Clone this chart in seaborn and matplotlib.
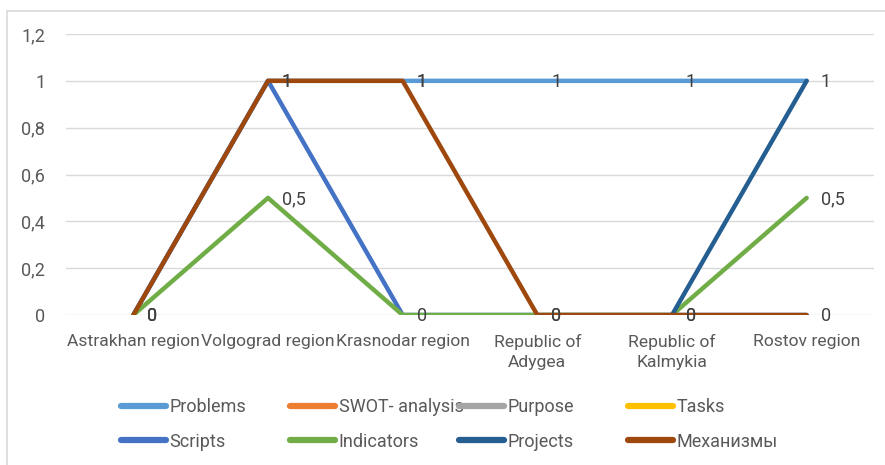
import numpy as np
import pandas as pd
import seaborn as sns
import matplotlib.pyplot as plt
from matplotlib.patches import Rectangle

regions = ["Astrakhan region", "Volgograd region", "Krasnodar region",
           "Republic of\nAdygea", "Republic of\nKalmykia", "Rostov region"]

nan = np.nan
problems = [0, 1, 1, 1, 1, 1]
swot = [nan, nan, nan, nan, nan, nan]
purpose = [nan, nan, nan, nan, nan, nan]
tasks = [nan, nan, nan, nan, nan, nan]
scripts = [0, 1, 0, 0, 0, 0]
indicators = [0, 0.5, 0, 0, 0, 0.5]
projects = [nan, nan, nan, nan, 0, 1]
mechanisms = [0, 1, 1, 0, 0, 0]

series = {
    "Problems": problems,
    "SWOT- analysis": swot,
    "Purpose": purpose,
    "Tasks": tasks,
    "Scripts": scripts,
    "Indicators": indicators,
    "Projects": projects,
    "Механизмы": mechanisms,
}
colors = ["#5B9BD5", "#ED7D31", "#A5A5A5", "#FFC000",
          "#4472C4", "#70AD47", "#255E91", "#9E480E"]
labelled = ["Problems", "Indicators", "Механизмы"]

rows = []
for name, vals in series.items():
    for i, v in enumerate(vals):
        rows.append({"pos": i, "value": v, "series": name})
df = pd.DataFrame(rows).dropna()

sns.set_theme(style="white")
plt.rcParams["font.family"] = ["Roboto", "DejaVu Sans"]
fs = 13

fig = plt.figure(figsize=(8.85, 4.65), dpi=100)
ax = fig.add_axes([66 / 885, 1 - 315 / 465, (874 - 66) / 885, (315 - 34) / 465])

sns.lineplot(data=df, x="pos", y="value", hue="series",
             palette=dict(zip(series.keys(), colors)),
             hue_order=list(series.keys()), linewidth=3.2, sort=False,
             legend=False, ax=ax)

ax.set_xlim(-0.5, 5.5)
ax.set_ylim(0, 1.2)
yt = [0, 0.2, 0.4, 0.6, 0.8, 1.0, 1.2]
ax.set_yticks(yt)
ax.set_yticklabels([("%g" % t).replace(".", ",") for t in yt],
                   fontsize=fs, color="#595959")
ax.set_xticks(range(len(regions)))
ax.set_xticklabels(regions, fontsize=12.6, color="#595959", linespacing=1.4,
                   va="top")
ax.tick_params(axis="y", length=0, pad=15)
ax.tick_params(axis="x", length=0, pad=14)
ax.set_xlabel("")
ax.set_ylabel("")
ax.grid(axis="y", color="#D9D9D9", linewidth=1)
ax.set_axisbelow(True)
for s in ax.spines.values():
    s.set_visible(False)

for name in labelled:
    for i, v in enumerate(series[name]):
        ax.annotate(("%g" % v).replace(".", ","), (i, v), xytext=(10, -1),
                    textcoords="offset points", ha="left", va="center",
                    fontsize=fs, color="#404040")

# legend: four columns, two rows
names = list(series.keys())
col_x = [121, 290, 459, 628]
for c in range(4):
    hs, ls = [], []
    for r in range(2):
        k = r * 4 + c
        h, = ax.plot([], [], color=colors[k], linewidth=4.5)
        hs.append(h)
        ls.append(names[k])
    fig.legend(hs, ls, loc="upper left",
               bbox_to_anchor=(col_x[c] / 885, 1 - 398 / 465),
               frameon=False, fontsize=fs, handlelength=2.5,
               handletextpad=0.2, labelspacing=0.92, borderpad=0,
               borderaxespad=0, labelcolor="#595959")

fig.patches.append(Rectangle((7 / 885, -0.01), 1.0, 1 - 11 / 465 + 0.01,
                             transform=fig.transFigure, fill=False,
                             edgecolor="#D9D9D9", linewidth=1.2))

fig.savefig("out.png", dpi=100)
